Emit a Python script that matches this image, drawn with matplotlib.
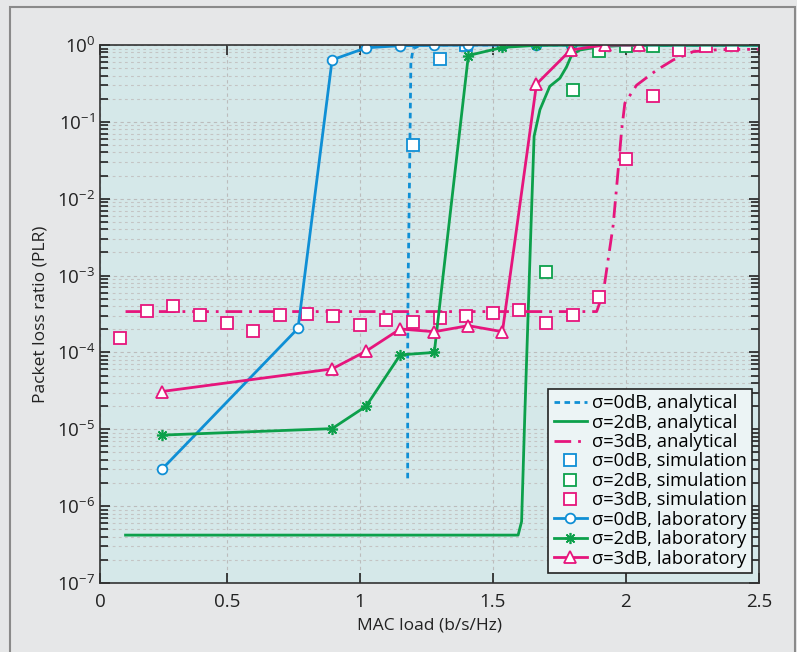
import numpy as np
import matplotlib
matplotlib.use('Agg')
import matplotlib.pyplot as plt
from matplotlib.patches import Rectangle

plt.rcParams['font.family'] = ['Open Sans', 'DejaVu Sans']
plt.rcParams['mathtext.fontset'] = 'custom'
plt.rcParams['mathtext.rm'] = 'Open Sans'

# colours
blue = '#0f8fd5'
green = '#0ca04b'
magenta = '#e6157c'

# analytical curves
ana0_x = [1.18, 1.18, 1.182, 1.186, 1.192, 1.201, 1.23, 2.5]
ana0_y = [2.3e-6, 1e-4, 1e-3, 1e-2, 0.6, 0.9, 1.0, 1.0]

ana2_x = [0.12, 1.595, 1.608, 1.62, 1.643, 1.655, 1.677, 1.714, 1.752, 1.777, 1.796, 1.827, 1.9, 2.0, 2.5]
ana2_y = [4.2e-7, 4.2e-7, 6.3e-7, 1.5e-5, 4e-3, 0.065, 0.144, 0.29, 0.37, 0.52, 0.74, 0.86, 0.95, 0.99, 1.0]

ana3_x = [0.12, 1.89, 1.915, 1.952, 1.971, 1.984, 1.996, 2.04, 2.115, 2.178, 2.253, 2.35, 2.5]
ana3_y = [3.4e-4, 3.4e-4, 6.0e-4, 4.5e-3, 0.024, 0.079, 0.175, 0.30, 0.47, 0.64, 0.82, 0.87, 0.88]

# simulation points
sim0_x = [1.2, 1.3, 1.4]
sim0_y = [0.05, 0.65, 1.0]

sim2_x = [1.7, 1.8, 1.9, 2.0, 2.1, 2.2]
sim2_y = [1.1e-3, 0.256, 0.84, 0.97, 0.98, 0.98]

sim3_x = [0.1, 0.2, 0.3, 0.4, 0.5, 0.6, 0.7, 0.8, 0.9, 1.0, 1.1, 1.2,
          1.3, 1.4, 1.5, 1.6, 1.7, 1.8, 1.9, 2.0, 2.1, 2.2, 2.3, 2.4]
sim3_y = [1.53e-4, 3.43e-4, 4.0e-4, 3.04e-4, 2.4e-4, 1.9e-4, 3.1e-4, 3.2e-4,
          2.95e-4, 2.3e-4, 2.64e-4, 2.5e-4, 2.8e-4, 3.0e-4, 3.3e-4, 3.6e-4,
          2.4e-4, 3.1e-4, 5.3e-4, 0.033, 0.22, 0.86, 0.97, 1.0]

# laboratory measurements
lab0_x = [0.256, 0.768, 0.896, 1.024, 1.152, 1.28, 1.408, 1.536, 1.664, 1.792, 2.5]
lab0_y = [3.0e-6, 2.06e-4, 0.64, 0.92, 0.98, 0.99, 1.0, 1.0, 1.0, 1.0, 1.0]
lab0_mark = list(range(10))

lab2_x = [0.256, 0.896, 1.024, 1.152, 1.28, 1.408, 1.536, 1.664, 1.792, 2.5]
lab2_y = [8.4e-6, 1.02e-5, 2.0e-5, 9.3e-5, 1.0e-4, 0.73, 0.93, 0.99, 1.0, 1.0]
lab2_mark = list(range(9))

lab3_x = [0.256, 0.896, 1.024, 1.152, 1.28, 1.408, 1.536, 1.664, 1.792, 1.92, 2.048]
lab3_y = [3.1e-5, 6.1e-5, 1.04e-4, 2.02e-4, 1.86e-4, 2.23e-4, 1.86e-4, 0.31, 0.86, 1.0, 1.0]

xticks = [0.024, 0.5, 1.0, 1.5, 2.0, 2.5]
xticklabels = ['0', '0.5', '1', '1.5', '2', '2.5']

fig = plt.figure(figsize=(7.97, 6.52), dpi=100)
fig.patch.set_facecolor('#e6e7e8')
fig.patches.append(Rectangle((10/797, -0.05), 785/797, 1.05 - 7/652,
                             transform=fig.transFigure, fill=False,
                             edgecolor='#8a8a8a', linewidth=1.5))

ax = fig.add_axes([100/797, 69/652, 659/797, 538/652])
ax.set_facecolor('#d5e8e9')

lw = 2.0
ax.plot(ana0_x, ana0_y, color=blue, lw=lw, linestyle=(0, (2, 1.6)), label='σ=0dB, analytical')
ax.plot(ana2_x, ana2_y, color=green, lw=lw, label='σ=2dB, analytical')
ax.plot(ana3_x, ana3_y, color=magenta, lw=lw, linestyle=(0, (6, 2.5, 1, 2.5)), label='σ=3dB, analytical')

sq = dict(linestyle='none', marker='s', markersize=8, markerfacecolor='white', markeredgewidth=1.3)
ax.plot(sim0_x, sim0_y, color=blue, label='σ=0dB, simulation', **sq)
ax.plot(sim2_x, sim2_y, color=green, label='σ=2dB, simulation', **sq)
ax.plot(sim3_x, sim3_y, color=magenta, label='σ=3dB, simulation', **sq)

ax.plot(lab0_x, lab0_y, color=blue, lw=lw, marker='o', markersize=7, markevery=lab0_mark,
        markerfacecolor='white', markeredgewidth=1.3, label='σ=0dB, laboratory')
ax.plot(lab2_x, lab2_y, color=green, lw=lw, marker=(8, 2, 0), markersize=8, markevery=lab2_mark,
        markeredgewidth=1.2, label='σ=2dB, laboratory')
ax.plot(lab3_x, lab3_y, color=magenta, lw=lw, marker='^', markersize=9,
        markerfacecolor='white', markeredgewidth=1.3, label='σ=3dB, laboratory')

ax.set_yscale('log')
ax.set_ylim(1e-7, 1)
ax.set_xlim(0.024, 2.5)
ax.set_xticks(xticks, xticklabels)
ax.set_yticks([10.0**k for k in range(-7, 1)])

ax.grid(True, which='major', axis='both', color='#bcbcbc', linestyle=(0, (3, 3)), lw=0.8)
ax.grid(True, which='minor', axis='y', color='#c4c4c4', linestyle=(0, (2.5, 3)), lw=0.8)
ax.set_axisbelow(True)

ax.tick_params(which='both', direction='in', top=True, right=True, labelsize=13.5, colors='#222222')
ax.tick_params(which='major', length=7, width=1.2)
ax.tick_params(which='minor', length=6, width=1.2)
ax.tick_params(axis='x', which='major', pad=7)
for s in ax.spines.values():
    s.set_color('#333333')
    s.set_linewidth(1.2)

ax.set_xlabel('MAC load (b/s/Hz)', fontsize=12.5, color='#222222', labelpad=5)
ax.set_ylabel('Packet loss ratio (PLR)', fontsize=12.5, color='#222222', labelpad=6)

leg = ax.legend(loc='lower right', bbox_to_anchor=(0.99, 0.018), borderaxespad=0,
                fontsize=13.2, fancybox=False, framealpha=1, edgecolor='#222222',
                facecolor='#ecf4f5', handlelength=1.8, handletextpad=0.3,
                labelspacing=0.08, borderpad=0.3)
leg.get_frame().set_linewidth(1.2)

fig.savefig('out.png', dpi=100, facecolor=fig.get_facecolor())
